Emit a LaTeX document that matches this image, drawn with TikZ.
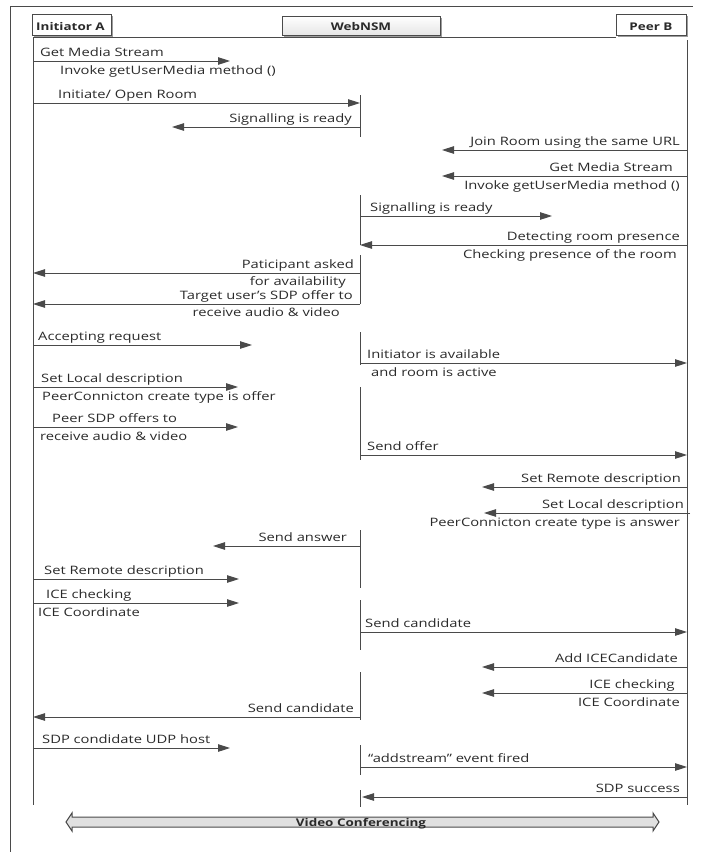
\documentclass[tikz,border=0pt]{standalone}
\usepackage{fontspec}
\setmainfont[FakeStretch=1.27]{Open Sans}
\usetikzlibrary{arrows.meta}
\definecolor{ln}{HTML}{4A4A4A}
\definecolor{tx}{HTML}{2A2A2A}
\definecolor{shd}{HTML}{9C9C9C}
\tikzset{
 msg/.style={draw=ln, line width=0.9pt, -{Triangle[length=12pt,width=7.5pt]}},
 life/.style={draw=ln, line width=1pt},
 lw/.style={anchor=base west, inner sep=0pt, text=tx, font=\fontsize{11.6}{13}\selectfont},
 le/.style={anchor=base east, inner sep=0pt, text=tx, font=\fontsize{11.6}{13}\selectfont},
 hd/.style={anchor=base, inner sep=0pt, text=tx, font=\fontsize{10.6}{13}\selectfont\bfseries},
 hbox/.style={draw=ln, line width=0.8pt},
}
\newcommand{\Msg}[4]{\coordinate (#1s) at (#3,#2); \coordinate (#1e) at (#4,#2); \draw[msg] (#1s) -- (#1e);}
\begin{document}
\begin{tikzpicture}[x=1pt,y=-1pt]
\useasboundingbox (0,0) rectangle (702,852);
% frame
\draw[ln, line width=1pt] (10,852) -- (10,6) -- (693,6);
% headers
\fill[shd] (34,16) rectangle (113,37);
\draw[hbox, fill=white] (32,14) rectangle (111,35);
\node[hd, anchor=base west] (hA) at (36,30) {Initiator A};
\fill[shd] (284,18) rectangle (442,37);
\draw[hbox, top color=white, bottom color=black!10] (282,16) rectangle (440,35);
\node[hd] (hW) at (361,30) {WebNSM};
\fill[shd] (618,16) rectangle (688,37);
\draw[hbox, fill=white] (616,14) rectangle (686,35);
\node[hd] (hB) at (651,30) {Peer B};
\draw[ln, line width=0.6pt] (33,37) -- (616,37);
% lifelines
\coordinate (A0) at (33,37); \coordinate (A1) at (33,805);
\coordinate (B0) at (687,40); \coordinate (B1) at (687,805);
\draw[life] (A0) -- (A1);
\draw[life] (B0) -- (B1);
\foreach \a/\b [count=\i] in {95/137,195/245,255/304,332/365,387/460,530/588,600/650,672/720,745/775,790/807}{
  \coordinate (W\i a) at (360,\a); \coordinate (W\i b) at (360,\b);
  \draw[life] (W\i a) -- (W\i b);
}
% messages
\Msg{m1}{61}{33}{230}
\node[lw] (t1a) at (40,56.5) {Get Media Stream};
\node[lw] (t1b) at (60,74.5) {Invoke getUserMedia method ()};
\Msg{m2}{103}{33}{360}
\node[lw] (t2a) at (58,98.5) {Initiate/ Open Room};
\Msg{m3}{127}{360}{172}
\node[le] (t3a) at (352,122.5) {Signalling is ready};
\Msg{m4}{150}{687}{442}
\node[le] (t4a) at (680,145.5) {Join Room using the same URL};
\Msg{m5}{176}{687}{442}
\node[le] (t5a) at (673,171.5) {Get Media Stream};
\node[le] (t5b) at (680,189.5) {Invoke getUserMedia method ()};
\Msg{m6}{216}{360}{552}
\node[lw] (t6a) at (370,211.5) {Signalling is ready};
\Msg{m7}{245}{687}{360}
\node[le] (t7a) at (680,240.5) {Detecting room presence};
\node[le] (t7b) at (677,258.5) {Checking presence of the room};
\Msg{m8}{273}{360}{33}
\node[le] (t8a) at (354,268.5) {Paticipant asked};
\node[le] (t8b) at (346,285.5) {for availability};
\Msg{m9}{304}{360}{33}
\node[le] (t9a) at (353,299.5) {Target user’s SDP offer to};
\node[le] (t9b) at (340,316.5) {receive audio \& video};
\Msg{m10}{345}{33}{252}
\node[lw] (t10a) at (38,340.5) {Accepting request};
\Msg{m11}{363}{360}{687}
\node[lw] (t11a) at (367,358.5) {Initiator is available};
\node[lw] (t11b) at (371,376.5) {and room is active};
\Msg{m12}{387}{33}{238}
\node[lw] (t12a) at (41,382.5) {Set Local description};
\node[lw] (t12b) at (42,400.5) {PeerConnicton create type is offer};
\Msg{m13}{427}{33}{238}
\node[lw] (t13a) at (52,422.5) {Peer SDP offers to};
\node[lw] (t13b) at (40,440.5) {receive audio \& video};
\Msg{m14}{455}{360}{687}
\node[lw] (t14a) at (367,450.5) {Send offer};
\Msg{m15}{487}{687}{482}
\node[le] (t15a) at (681,482.5) {Set Remote description};
\Msg{m16}{513}{690}{484}
\node[le] (t16a) at (684,508.5) {Set Local description};
\node[le] (t16b) at (680,526.5) {PeerConnicton create type is answer};
\Msg{m17}{546}{360}{213}
\node[le] (t17a) at (347,541.5) {Send answer};
\Msg{m18}{579}{33}{239}
\node[lw] (t18a) at (44,574.5) {Set Remote description};
\Msg{m19}{603}{33}{239}
\node[lw] (t19a) at (46,598.5) {ICE checking};
\node[lw] (t19b) at (38,616.5) {ICE Coordinate};
\Msg{m20}{632}{360}{687}
\node[lw] (t20a) at (365,627.5) {Send candidate};
\Msg{m21}{667}{687}{482}
\node[le] (t21a) at (678,662.5) {Add ICECandidate};
\Msg{m22}{693}{687}{482}
\node[le] (t22a) at (675,688.5) {ICE checking};
\node[le] (t22b) at (680,706.5) {ICE Coordinate};
\Msg{m23}{717}{360}{33}
\node[le] (t23a) at (354,712.5) {Send candidate};
\Msg{m24}{748}{33}{230}
\node[lw] (t24a) at (42,743.5) {SDP condidate UDP host};
\Msg{m25}{767}{360}{687}
\node[lw] (t25a) at (368,762.5) {“addstream” event fired};
\Msg{m26}{797}{687}{362}
\node[le] (t26a) at (680,792.5) {SDP success};
% video conferencing
\draw[ln, line width=1pt, fill=black!12] (66,822) -- (72,813) -- (72,817) -- (653,817) -- (653,813) -- (659,822) -- (653,831) -- (653,827) -- (72,827) -- (72,831) -- cycle;
\node[hd] (vc) at (361,826) {Video Conferencing};
\end{tikzpicture}
\end{document}
